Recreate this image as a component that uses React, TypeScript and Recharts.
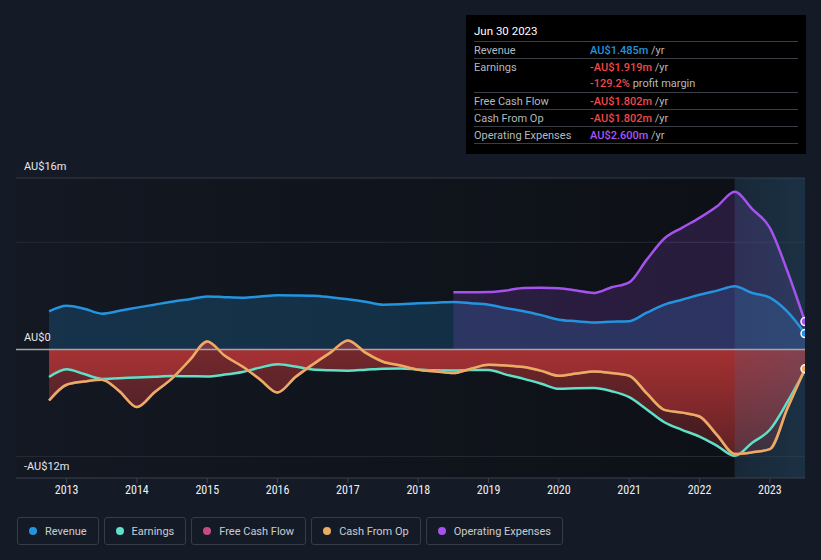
import React from 'react';
import {
  ComposedChart,
  Area,
  Line,
  XAxis,
  YAxis,
  ReferenceLine,
  ReferenceArea,
} from 'recharts';

// quarter-end dates as decimal years
const years = [
  2012.75, 2013.0, 2013.25, 2013.5, 2013.75, 2014.0, 2014.25, 2014.5, 2014.75,
  2015.0, 2015.25, 2015.5, 2015.75, 2016.0, 2016.25, 2016.5, 2016.75,
  2017.0, 2017.25, 2017.5, 2017.75, 2018.0, 2018.25, 2018.5, 2018.75,
  2019.0, 2019.25, 2019.5, 2019.75, 2020.0, 2020.25, 2020.5, 2020.75,
  2021.0, 2021.25, 2021.5, 2021.75, 2022.0, 2022.25, 2022.5, 2022.75,
  2023.0, 2023.25, 2023.5,
];

// AU$ millions
const revenue = [
  3.55, 4.08, 3.8, 3.34, 3.6, 3.9, 4.18, 4.46, 4.69,
  4.95, 4.88, 4.83, 4.93, 5.05, 5.04, 5.02, 4.88,
  4.69, 4.46, 4.18, 4.22, 4.32, 4.36, 4.43, 4.32,
  4.18, 3.85, 3.57, 3.2, 2.78, 2.64, 2.52, 2.59,
  2.64, 3.43, 4.18, 4.64, 5.11, 5.49, 5.89, 5.27,
  4.83, 3.52, 1.485,
];

const earnings = [
  -2.58, -1.85, -2.3, -2.75, -2.68, -2.62, -2.55, -2.48, -2.5,
  -2.52, -2.35, -2.1, -1.7, -1.38, -1.6, -1.88, -1.95,
  -1.98, -1.9, -1.8, -1.78, -1.88, -1.95, -1.96, -1.92,
  -1.92, -2.35, -2.75, -3.2, -3.68, -3.62, -3.6, -3.9,
  -4.45, -5.6, -6.8, -7.5, -8.13, -9.0, -9.93, -8.7,
  -7.5, -4.9, -1.919,
];

const cashFromOp = [
  -4.77, -3.3, -3.0, -2.83, -3.9, -5.38, -4.0, -2.7, -1.0,
  0.75, -0.6, -1.6, -2.8, -4.02, -2.6, -1.4, -0.3,
  0.84, -0.3, -1.15, -1.5, -1.9, -2.05, -2.2, -1.8,
  -1.43, -1.5, -1.65, -2.0, -2.46, -2.25, -2.05, -2.2,
  -2.46, -4.1, -5.64, -5.9, -6.26, -8.0, -9.75, -9.6,
  -9.31, -5.5, -1.802,
];

// no capex reported, so free cash flow tracks cash from operations
const freeCashFlow = [...cashFromOp];

const opex: (number | null)[] = [
  null, null, null, null, null, null, null, null, null,
  null, null, null, null, null, null, null, null,
  null, null, null, null, null, null, 5.33, 5.33,
  5.35, 5.5, 5.74, 5.75, 5.7, 5.5, 5.27, 5.8,
  6.26, 8.38, 10.35, 11.35, 12.28, 13.36, 14.71, 13.1,
  11.35, 7.3, 2.6,
];

const xTicks = [2013, 2014, 2015, 2016, 2017, 2018, 2019, 2020, 2021, 2022, 2023];
const yLabels = [
  { v: 16, text: 'AU$16m' },
  { v: 0, text: 'AU$0' },
  { v: -12, text: '-AU$12m' },
];
const yGrid = [16, 10, -10];

const COLORS = {
  revenue: '#2394df',
  earnings: '#5fe0c8',
  fcf: '#c44b86',
  cfo: '#e9ad5f',
  opex: '#a652ee',
  neg: '#f04848',
};

const data = years.map((t, i) => ({
  t,
  revenue: revenue[i],
  earnings: earnings[i],
  fcf: freeCashFlow[i],
  cfo: cashFromOp[i],
  opex: opex[i],
}));

const last = data.length - 1;

const fmt = (v: number) => (v < 0 ? '-' : '') + 'AU$' + Math.abs(v).toFixed(3) + 'm';

const endDot = (color: string) => (props: any) =>
  props.index === last ? (
    <circle key={`dot-${color}`} cx={props.cx} cy={props.cy} r={4} fill={color} stroke="#ffffff" strokeWidth={1.5} />
  ) : (
    <g key={`nodot-${props.index}`} />
  );

const axisLabel = (text: string) => (props: any) => {
  const vb = props.viewBox || {};
  return (
    <text x={(vb.x ?? 16) + 8} y={(vb.y ?? 0) - 8} fill="#e6e8ec" fontSize={11} fontFamily="Roboto, sans-serif">
      {text}
    </text>
  );
};

const legendItems = [
  { name: 'Revenue', color: COLORS.revenue },
  { name: 'Earnings', color: COLORS.earnings },
  { name: 'Free Cash Flow', color: COLORS.fcf },
  { name: 'Cash From Op', color: COLORS.cfo },
  { name: 'Operating Expenses', color: COLORS.opex },
];

function InfoBox() {
  const d = data[last];
  const margin = (d.earnings / d.revenue) * 100;
  const rows = [
    { label: 'Revenue', value: fmt(d.revenue), color: COLORS.revenue },
    { label: 'Earnings', value: fmt(d.earnings), color: COLORS.neg, extra: margin.toFixed(1) + '%' },
    { label: 'Free Cash Flow', value: fmt(d.fcf), color: COLORS.neg },
    { label: 'Cash From Op', value: fmt(d.cfo), color: COLORS.neg },
    { label: 'Operating Expenses', value: fmt(d.opex as number), color: '#a855f7' },
  ];
  const line = '1px solid #3a3d43';
  return (
    <div
      style={{
        position: 'absolute',
        left: 466,
        top: 15,
        width: 340,
        height: 139,
        background: '#000000',
        boxSizing: 'border-box',
        padding: '1px 8px 0',
        fontSize: 11,
        color: '#b4b8bf',
      }}
    >
      <div style={{ height: 25, lineHeight: '31px', color: '#ffffff', fontSize: 11.5, borderBottom: line }}>
        Jun 30 2023
      </div>
      {rows.map((r) => (
        <div key={r.label} style={{ borderBottom: line }}>
          <div style={{ display: 'flex', height: 16, lineHeight: '17px' }}>
            <span style={{ width: 116 }}>{r.label}</span>
            <span>
              <span style={{ color: r.color, fontWeight: 500 }}>{r.value}</span> /yr
            </span>
          </div>
          {r.extra && (
            <div style={{ display: 'flex', height: 17, lineHeight: '18px' }}>
              <span style={{ width: 116 }} />
              <span>
                <span style={{ color: COLORS.neg, fontWeight: 500 }}>{r.extra}</span> profit margin
              </span>
            </div>
          )}
        </div>
      ))}
    </div>
  );
}

export default function App() {
  return (
    <div
      style={{
        position: 'relative',
        width: 821,
        height: 560,
        background: '#151b26',
        fontFamily: 'Roboto, sans-serif',
        overflow: 'hidden',
      }}
    >
      <style>{`body{margin:0}`}</style>
      <ComposedChart width={821} height={510} data={data} margin={{ top: 178, right: 16, bottom: 2, left: 16 }}>
        <defs>
          <linearGradient id="plotBg" x1="0" y1="0" x2="1" y2="0">
            <stop offset="0%" stopColor="#131822" />
            <stop offset="100%" stopColor="#0d1016" />
          </linearGradient>
          <linearGradient id="bandBg" x1="0" y1="0" x2="1" y2="0">
            <stop offset="0%" stopColor="#2a6a90" stopOpacity={0.16} />
            <stop offset="100%" stopColor="#2a6a90" stopOpacity={0.28} />
          </linearGradient>
          <linearGradient id="negFill" x1="0" y1="0" x2="0" y2="1">
            <stop offset="0%" stopColor="#d83b3b" stopOpacity={0.5} />
            <stop offset="100%" stopColor="#d83b3b" stopOpacity={0.22} />
          </linearGradient>
        </defs>

        <ReferenceArea x1={2012.28} x2={2022.5} y1={-12} y2={16} fill="url(#plotBg)" fillOpacity={1} stroke="none" zIndex={-150} />

        {yGrid.map((v) => (
          <ReferenceLine key={v} y={v} stroke={v === 16 ? '#353a44' : '#262b34'} strokeWidth={1} zIndex={-100} />
        ))}

        <XAxis
          dataKey="t"
          type="number"
          domain={[2012.28, 2023.5]}
          ticks={xTicks}
          allowDataOverflow
          height={30}
          axisLine={{ stroke: '#3b414d' }}
          tickLine={{ stroke: '#3b414d' }}
          tickSize={5}
          tick={{ fill: '#eef0f3', fontSize: 12, fontFamily: '"Roboto Condensed", Roboto, sans-serif' }}
        />
        <YAxis type="number" domain={[-12, 16]} allowDataOverflow width={0} hide />

        <Area type="monotone" dataKey="revenue" baseValue={0} stroke="none" fill={COLORS.revenue} fillOpacity={0.22} isAnimationActive={false} />
        <Area type="monotone" dataKey="opex" baseValue={0} stroke="none" fill={COLORS.opex} fillOpacity={0.18} isAnimationActive={false} />
        <Area type="monotone" dataKey="earnings" baseValue={0} stroke="none" fill="url(#negFill)" fillOpacity={1} isAnimationActive={false} />
        <Area type="monotone" dataKey="fcf" baseValue={0} stroke="none" fill="url(#negFill)" fillOpacity={1} isAnimationActive={false} />

        <ReferenceArea x1={2022.5} x2={2023.5} y1={-12} y2={16} fill="url(#bandBg)" fillOpacity={1} stroke="none" zIndex={150} />
        <ReferenceLine y={0} stroke="#a3a6ab" strokeWidth={1.5} zIndex={160} />

        {yLabels.map((l) => (
          <ReferenceLine key={`lab-${l.v}`} y={l.v} stroke="none" label={axisLabel(l.text)} zIndex={2000} />
        ))}

        <Line type="monotone" dataKey="revenue" stroke={COLORS.revenue} strokeWidth={2.5} dot={endDot(COLORS.revenue)} activeDot={false} isAnimationActive={false} />
        <Line type="monotone" dataKey="opex" stroke={COLORS.opex} strokeWidth={2.5} dot={endDot(COLORS.opex)} activeDot={false} isAnimationActive={false} />
        <Line type="monotone" dataKey="earnings" stroke={COLORS.earnings} strokeWidth={2.5} dot={false} activeDot={false} isAnimationActive={false} />
        <Line type="monotone" dataKey="fcf" stroke={COLORS.fcf} strokeWidth={2.5} dot={false} activeDot={false} isAnimationActive={false} />
        <Line type="monotone" dataKey="cfo" stroke={COLORS.cfo} strokeWidth={2.5} dot={endDot(COLORS.cfo)} activeDot={false} isAnimationActive={false} />
      </ComposedChart>

      <InfoBox />

      <div style={{ position: 'absolute', left: 17, top: 517, display: 'flex', gap: 5 }}>
        {legendItems.map((it) => (
          <div
            key={it.name}
            style={{
              height: 28,
              boxSizing: 'border-box',
              border: '1px solid #363c48',
              borderRadius: 3,
              padding: '0 11px',
              display: 'flex',
              alignItems: 'center',
              gap: 8,
              fontSize: 11,
              color: '#c9ccd2',
            }}
          >
            <span style={{ width: 8, height: 8, borderRadius: '50%', background: it.color, display: 'inline-block' }} />
            {it.name}
          </div>
        ))}
      </div>
    </div>
  );
}
